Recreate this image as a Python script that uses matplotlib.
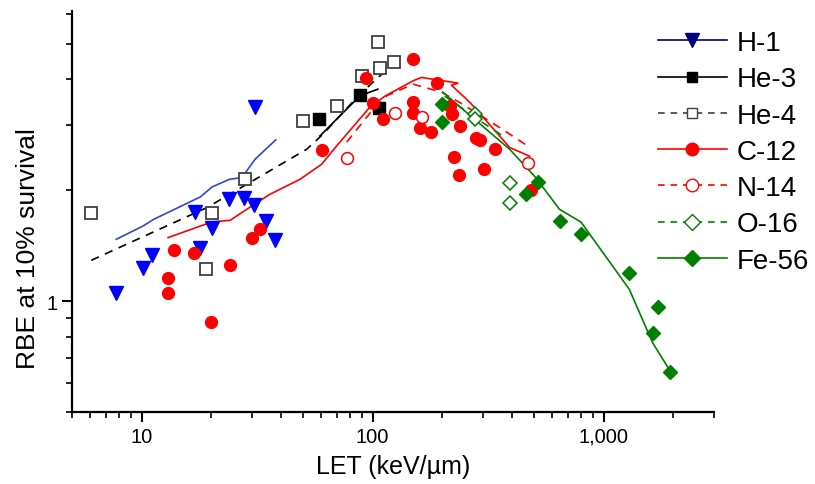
import matplotlib
matplotlib.use("Agg")
import matplotlib.pyplot as plt
import matplotlib.ticker as ticker
from matplotlib.lines import Line2D

plt.rcParams['font.family'] = ['Liberation Sans', 'DejaVu Sans']

# measured points (LET in keV/um, RBE at 10% survival)
h1_let = [7.77, 10.16, 11.07, 16.97, 17.84, 20.17, 23.89, 27.73, 30.6, 34.7, 37.97, 31.1]
h1_rbe = [1.054, 1.232, 1.331, 1.750, 1.397, 1.583, 1.897, 1.910, 1.820, 1.647, 1.462, 3.354]

he3_let = [58.8, 88.1, 106.1]
he3_rbe = [3.117, 3.622, 3.339]

he4_let = [6.02, 19.06, 20.17, 28.1, 50.1, 69.9, 90.2, 107.5, 124.0, 105.7]
he4_rbe = [1.739, 1.225, 1.739, 2.141, 3.084, 3.376, 4.087, 4.289, 4.462, 5.037]

c12_let = [13.03, 13.03, 13.77, 16.80, 20.03, 24.03, 30.0, 32.4, 60.2, 93.6, 100.0, 110.4,
           149.7, 149.7, 149.7, 160.8, 179.8, 190.1, 215.7, 221.5, 225.1, 236.5, 239.9,
           279.3, 290.6, 302.4, 339.7, 482.6]
c12_rbe = [1.155, 1.054, 1.376, 1.353, 0.879, 1.251, 1.487, 1.573, 2.572, 4.021, 3.444, 3.117,
           4.538, 3.473, 3.231, 2.941, 2.879, 3.905, 3.376, 3.217, 2.468, 2.195, 2.978,
           2.773, 2.729, 2.279, 2.595, 2.003]

n14_let = [77.8, 124.8, 164.4, 469.8]
n14_rbe = [2.445, 3.240, 3.156, 2.371]

o16_let = [278.5, 278.5, 391.6, 391.6]
o16_rbe = [3.217, 3.117, 2.098, 1.851]

fe56_let = [199.8, 199.8, 459.2, 518.8, 648.3, 798.8, 1291, 1723, 1639, 1941]
fe56_rbe = [3.423, 3.064, 1.950, 2.106, 1.650, 1.518, 1.194, 0.966, 0.817, 0.641]

# model curves
h1_curve_let = [7.77, 10.16, 11.29, 17.96, 20.17, 24.03, 27.2, 31.0, 38.1]
h1_curve_rbe = [1.471, 1.599, 1.667, 1.917, 2.040, 2.141, 2.164, 2.427, 2.739]

he3_curve_let = [59.2, 88.1, 105.4]
he3_curve_rbe = [2.808, 3.606, 3.761]

he4_curve_let = [6.06, 19.19, 51.9, 61.0, 88.1, 126.9]
he4_curve_rbe = [1.290, 1.794, 2.584, 2.838, 3.645, 4.490]

c12_curve_let = [13.03, 20.17, 24.2, 30.0, 36.0, 48.5, 60.2, 69.9, 97.3, 113.0, 149.7,
                 162.7, 234.2, 219.3, 263.1, 354.5, 391.6, 477.7]
c12_curve_rbe = [1.487, 1.640, 1.657, 1.812, 1.950, 2.141, 2.352, 2.638, 3.360, 3.599, 3.962,
                 4.046, 3.905, 3.856, 3.467, 2.808, 2.612, 2.473]

n14_curve_let = [77.2, 100.6, 114.9, 149.7, 198.6, 238.2, 354.5, 468.4]
n14_curve_rbe = [2.700, 3.319, 3.606, 3.880, 3.691, 3.460, 2.959, 2.638]

o16_curve_let = [205.2, 276.6, 372.6]
o16_curve_rbe = [3.599, 3.156, 2.786]

fe56_curve_let = [201.2, 391.6, 502.1, 643.9, 798.8, 1291, 1628, 1921]
fe56_curve_rbe = [3.691, 2.584, 2.182, 1.775, 1.637, 1.076, 0.771, 0.652]

labels = ['H-1', 'He-3', 'He-4', 'C-12', 'N-14', 'O-16', 'Fe-56']

blue = '#0000ff'
red = '#ff0000'
green = '#008000'

fig = plt.figure(figsize=(8.15, 4.85), dpi=100)
ax = fig.add_axes([0.0883, 0.1485, 0.7877, 0.8268])

# curves
ax.plot(h1_curve_let, h1_curve_rbe, '-', color='#3344dd', lw=1.2)
ax.plot(he3_curve_let, he3_curve_rbe, '-', color='black', lw=1.2)
ax.plot(he4_curve_let, he4_curve_rbe, '--', color='black', lw=1.2, dashes=(5, 4))
ax.plot(c12_curve_let, c12_curve_rbe, '-', color=red, lw=1.2)
ax.plot(n14_curve_let, n14_curve_rbe, '--', color=red, lw=1.2, dashes=(5, 4))
ax.plot(o16_curve_let, o16_curve_rbe, '--', color=green, lw=1.2, dashes=(5, 4))
ax.plot(fe56_curve_let, fe56_curve_rbe, '-', color=green, lw=1.2)

# points
ax.plot(h1_let, h1_rbe, 'v', color=blue, ms=10, ls='none')
ax.plot(he4_let, he4_rbe, 's', mfc='white', mec='#404040', mew=1.3, ms=8, ls='none')
ax.plot(he3_let, he3_rbe, 's', color='black', ms=8, ls='none')
ax.plot(c12_let, c12_rbe, 'o', color=red, ms=8.5, ls='none')
ax.plot(n14_let, n14_rbe, 'o', mfc='white', mec=red, mew=1.1, ms=8.5, ls='none')
ax.plot(o16_let, o16_rbe, 'D', mfc='white', mec=green, mew=1.1, ms=7.5, ls='none')
ax.plot(fe56_let, fe56_rbe, 'D', color=green, ms=7.5, ls='none')

ax.set_xscale('log')
ax.set_yscale('log')
ax.set_xlim(5, 3000)
ax.set_ylim(0.5, 6.13)

ax.xaxis.set_major_locator(ticker.FixedLocator([10, 100, 1000]))
ax.xaxis.set_major_formatter(ticker.FuncFormatter(lambda v, p: '{:,.0f}'.format(v)))
ax.xaxis.set_minor_locator(ticker.LogLocator(base=10, subs=range(2, 10), numticks=20))
ax.xaxis.set_minor_formatter(ticker.NullFormatter())
ax.yaxis.set_major_locator(ticker.FixedLocator([1]))
ax.yaxis.set_major_formatter(ticker.FuncFormatter(lambda v, p: '{:g}'.format(v)))
ax.yaxis.set_minor_locator(ticker.LogLocator(base=10, subs=range(2, 10), numticks=20))
ax.yaxis.set_minor_formatter(ticker.NullFormatter())

for s in ['top', 'right']:
    ax.spines[s].set_visible(False)
for s in ['left', 'bottom']:
    ax.spines[s].set_linewidth(1.6)
ax.tick_params(which='major', direction='out', length=7, width=1.5, labelsize=14.5)
ax.tick_params(which='minor', direction='out', length=4, width=1.2)

ax.set_xlabel('LET (keV/µm)', fontsize=18)
ax.xaxis.set_label_coords(0.5, -0.105)
ax.set_ylabel('RBE at 10% survival', fontsize=19)
ax.yaxis.set_label_coords(-0.05, 0.41)

# legend
handles = [
    Line2D([], [], color='#000080', marker='v', ms=10, lw=1.2),
    Line2D([], [], color='black', marker='s', ms=7, lw=1.2),
    Line2D([], [], color='#404040', marker='s', ms=7, mfc='white', ls='--', dashes=(4, 3.5), lw=1.2),
    Line2D([], [], color=red, marker='o', ms=9, lw=1.2),
    Line2D([], [], color=red, marker='o', ms=9, mfc='white', ls='--', dashes=(4, 3.5), lw=1.2),
    Line2D([], [], color=green, marker='D', ms=8, mfc='white', ls='--', dashes=(4, 3.5), lw=1.2),
    Line2D([], [], color=green, marker='D', ms=8, lw=1.2),
]
fig.legend(handles, labels, loc='upper left', bbox_to_anchor=(0.807, 0.936),
           frameon=False, fontsize=20, handlelength=2.5, handletextpad=0.35,
           labelspacing=0.37, borderpad=0, borderaxespad=0)

fig.savefig('out.png', dpi=100)
